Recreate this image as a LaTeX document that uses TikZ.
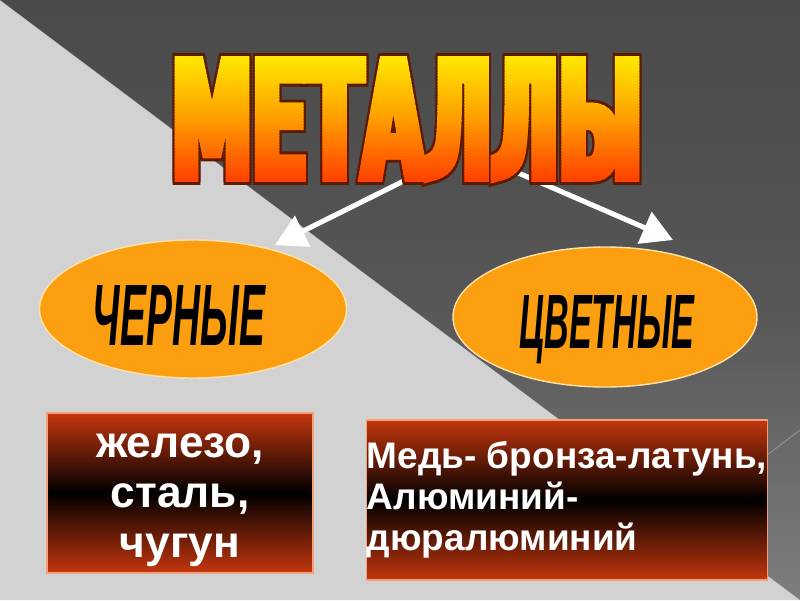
\documentclass[tikz,border=0pt]{standalone}
\usepackage{fontspec}
\setmainfont{Liberation Sans}
% squeezed in the font, stretched back by the box: the fake bold grows sideways
\newfontfamily\titlefont{DejaVu Sans}[BoldFeatures={FakeStretch=0.2,FakeBold=2.3}]
\newfontfamily\rimfont{DejaVu Sans}[BoldFeatures={FakeStretch=0.2,FakeBold=3.3}]
\usetikzlibrary{arrows.meta,shapes.geometric}

\definecolor{bgLight}{HTML}{D2D2D2}
\definecolor{bgDark}{HTML}{4A4A4A}
\definecolor{bgMid}{HTML}{565656}
\definecolor{bgLow}{HTML}{7E7E7E}
\definecolor{titleTop}{HTML}{FFE600}
\definecolor{titleMid}{HTML}{FF9E00}
\definecolor{titleBot}{HTML}{FF4400}
\definecolor{titleEdge}{HTML}{5C1A00}
\definecolor{ovalFill}{HTML}{FB9E10}
\definecolor{ovalEdge}{HTML}{FFE2A8}
\definecolor{boxRed}{HTML}{C4360E}
\definecolor{boxEdge}{HTML}{F2A07A}

\newlength\pxu
\setlength\pxu{0.025cm}

\def\TitleWord{\resizebox{470\pxu}{122\pxu}{\titlefont\bfseries МЕТАЛЛЫ}}
\def\RimWord{\resizebox{470\pxu}{122\pxu}{\rimfont\bfseries МЕТАЛЛЫ}}

\begin{document}
\begin{tikzpicture}[
          % one unit = one pixel of the slide
          x=0.025cm, y=-0.025cm,
          Oval/.style={% orange ellipse
            ellipse,
            draw=ovalEdge,
            line width=1pt,
            fill=ovalFill,
            inner sep=0pt
          },
          OvalWord/.style={% black word inside the ellipse
            text=black,
            inner sep=0pt,
            anchor=base
          },
          MetalBox/.style={% red-black-red box
            draw=boxEdge,
            line width=0.8pt,
            top color=boxRed,
            bottom color=boxRed,
            middle color=black,
            text=white,
            inner sep=0pt
          },
          WhiteArrow/.style={% white arrows from the title
            -{Triangle[width=24pt,length=22pt]},
            white,
            line width=3.6pt
          }
        ]

        \useasboundingbox (0,0) rectangle (800,600);

        % Background
        \fill[bgLight] (0,0) -- (800,600) -- (0,600) -- cycle;
        \shade[top color=bgDark, bottom color=bgLow, middle color=bgMid]
          (0,0) -- (800,0) -- (800,600) -- cycle;
        \draw[gray!75, line width=0.5pt] (700,506) -- (800,430);

        % Arrows (under the title)
        \coordinate (tailL) at (440,163);
        \coordinate (tailR) at (470,152);
        \coordinate (tipL) at (275,245);
        \coordinate (tipR) at (673,240);
        \draw[WhiteArrow] (tailL) -- (tipL);
        \draw[WhiteArrow] (tailR) -- (tipR);

        % Title: dark rim, then gradient bands
        \node[text=titleEdge, inner sep=0pt] (title) at (407,119) {\RimWord};
        \foreach \dy [count=\n] in {-2,2}
          \node[text=titleEdge, inner sep=0pt] (rim\n) at ([yshift=\dy\pxu]title.center) {\RimWord};
        \foreach \i in {0,...,40}{
          \pgfmathsetmacro\yA{57+3*\i-20*(\i==0)}
          \pgfmathsetmacro\yB{60.5+3*\i+20*(\i==40)}
          \pgfmathtruncatemacro\pctA{5*\i}
          \pgfmathtruncatemacro\pctB{5*(\i-20)}
          \ifnum\i<20 \colorlet{band}{titleMid!\pctA!titleTop}\else \colorlet{band}{titleBot!\pctB!titleMid}\fi
          \begin{scope}
            \clip (140,\yA) rectangle (680,\yB);
            \node[text=band, inner sep=0pt] (band\i) at (title.center) {\TitleWord};
          \end{scope}
        }

        % Ellipses
        \node[Oval, minimum width=307\pxu, minimum height=138\pxu] (ferrous) at (193,309) {};
        \node[OvalWord] (ferrousword) at (179,345)
          {\resizebox{172\pxu}{60\pxu}{\bfseries\itshape ЧЕРНЫЕ}};
        \node[Oval, minimum width=304\pxu, minimum height=140\pxu] (nonferrous) at (605,317) {};
        \node[OvalWord] (nonferrousword) at (607,348)
          {\resizebox{175\pxu}{53\pxu}{\bfseries\itshape ЦВЕТНЫЕ}};

        % Boxes with examples
        \node[MetalBox, minimum width=266\pxu, minimum height=160\pxu, align=center,
              font=\bfseries\fontsize{31.5}{35.5}\selectfont] (ferrousbox) at (180,493)
          {\rule{0pt}{0.85em}железо,\\сталь,\\чугун};
        \node[MetalBox, minimum width=400\pxu, minimum height=160\pxu, align=left,
              font=\bfseries\fontsize{26.3}{29}\selectfont] (nonferrousbox) at (567,500)
          {Медь- бронза-латунь,\\Алюминий-\\дюралюминий};

        \end{tikzpicture}
\end{document}
